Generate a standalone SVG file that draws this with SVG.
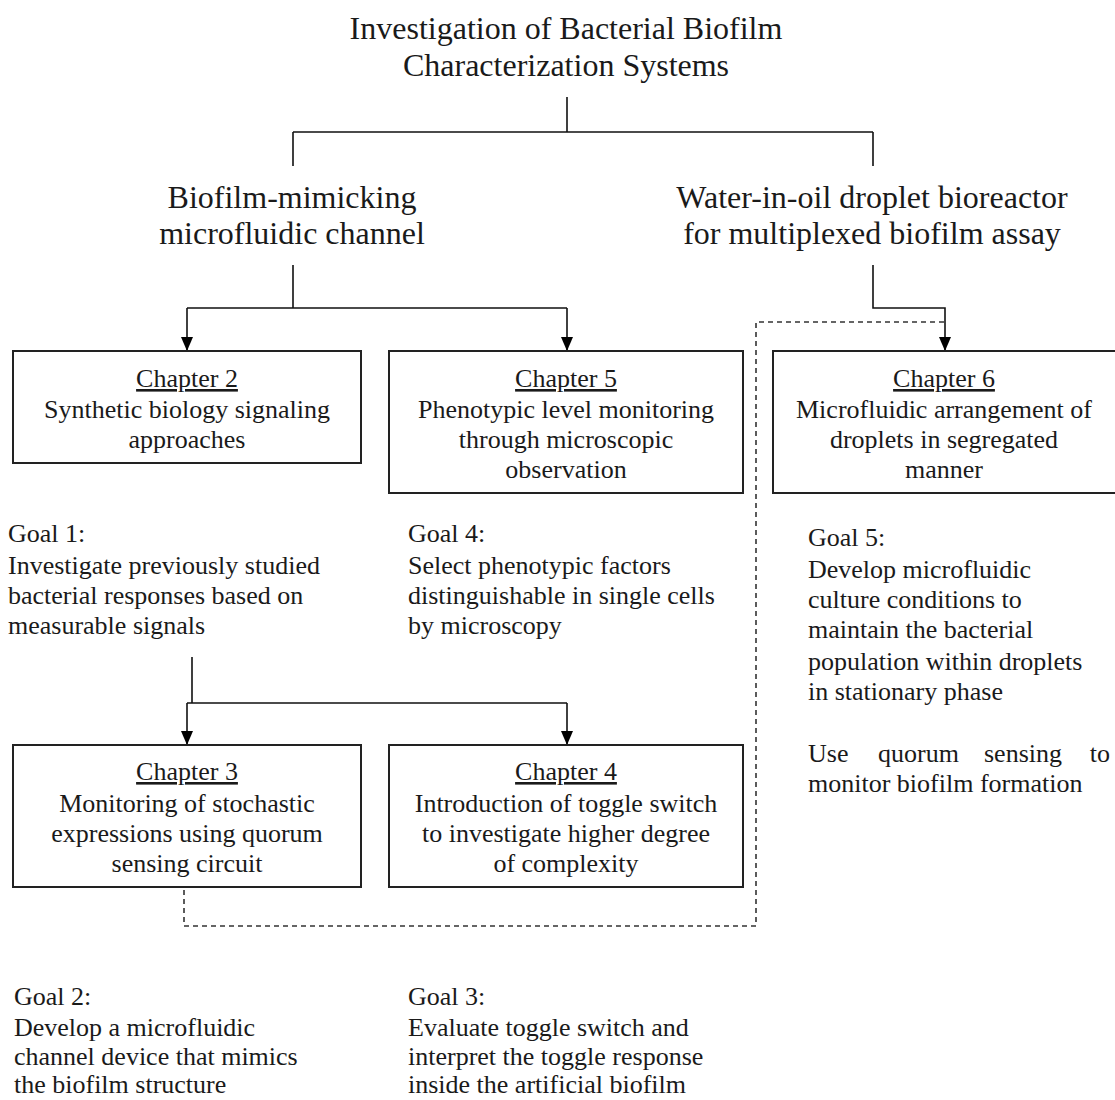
<svg xmlns="http://www.w3.org/2000/svg" width="1115" height="1100" viewBox="0 0 1115 1100">
<defs>
<marker id="arr" markerWidth="14" markerHeight="12" refX="14" refY="6" orient="auto" markerUnits="userSpaceOnUse" viewBox="0 0 14 12">
<path d="M0,0 L14,6 L0,12 Z" fill="#000"/>
</marker>
<style>
text{font-family:"Liberation Serif","Times New Roman",serif;fill:#1a1a1a}
.t{font-size:32px;text-anchor:middle}
.b{font-size:26px;text-anchor:middle}
.g{font-size:26px}
.u{text-decoration:underline}
.box{fill:#fff;stroke:#222;stroke-width:2}
.ln{fill:none;stroke:#111;stroke-width:1.6}
.ds{fill:none;stroke:#333;stroke-width:1.6;stroke-dasharray:5,4}
</style>
</defs>
<rect width="1115" height="1100" fill="#fff"/>
<g id="title">
<text class="t" x="566" y="39">Investigation of Bacterial Biofilm</text>
<text class="t" x="566" y="76">Characterization Systems</text>
</g>
<g id="branch-left">
<text class="t" x="292" y="208">Biofilm-mimicking</text>
<text class="t" x="292" y="244">microfluidic channel</text>
</g>
<g id="branch-right">
<text class="t" x="872" y="208">Water-in-oil droplet bioreactor</text>
<text class="t" x="872" y="244">for multiplexed biofilm assay</text>
</g>
<g id="connectors">
<path class="ln" d="M567,97 V132 M293,132 H873 M293,132 V166 M873,132 V166"/>
<path class="ln" d="M293,265 V308 M187,308 H567"/>
<path class="ln" d="M187,308 V351" marker-end="url(#arr)"/>
<path class="ln" d="M567,308 V351" marker-end="url(#arr)"/>
<path class="ln" d="M873,265 V308 H945 V351" marker-end="url(#arr)"/>
<path class="ln" d="M192,657 V703 M187,703 H567"/>
<path class="ln" d="M187,703 V745" marker-end="url(#arr)"/>
<path class="ln" d="M567,703 V745" marker-end="url(#arr)"/>
<path class="ds" d="M184,890 V926 H756 V322 H945"/>
</g>
<g id="ch2">
<rect class="box" x="13" y="351" width="348" height="112"/>
<text class="b u" x="187" y="387">Chapter 2</text>
<text class="b" x="187" y="418">Synthetic biology signaling</text>
<text class="b" x="187" y="448">approaches</text>
</g>
<g id="ch5">
<rect class="box" x="389" y="351" width="354" height="142"/>
<text class="b u" x="566" y="387">Chapter 5</text>
<text class="b" x="566" y="418">Phenotypic level monitoring</text>
<text class="b" x="566" y="448">through microscopic</text>
<text class="b" x="566" y="478">observation</text>
</g>
<g id="ch6">
<rect class="box" x="773" y="351" width="345" height="142"/>
<text class="b u" x="944" y="387">Chapter 6</text>
<text class="b" x="944" y="418">Microfluidic arrangement of</text>
<text class="b" x="944" y="448">droplets in segregated</text>
<text class="b" x="944" y="478">manner</text>
</g>
<g id="ch3">
<rect class="box" x="13" y="745" width="348" height="142"/>
<text class="b u" x="187" y="780">Chapter 3</text>
<text class="b" x="187" y="812">Monitoring of stochastic</text>
<text class="b" x="187" y="842">expressions using quorum</text>
<text class="b" x="187" y="872">sensing circuit</text>
</g>
<g id="ch4">
<rect class="box" x="389" y="745" width="354" height="142"/>
<text class="b u" x="566" y="780">Chapter 4</text>
<text class="b" x="566" y="812">Introduction of toggle switch</text>
<text class="b" x="566" y="842">to investigate higher degree</text>
<text class="b" x="566" y="872">of complexity</text>
</g>
<g id="goal1">
<text class="g" x="8" y="542">Goal 1:</text>
<text class="g" x="8" y="574">Investigate previously studied</text>
<text class="g" x="8" y="604">bacterial responses based on</text>
<text class="g" x="8" y="634">measurable signals</text>
</g>
<g id="goal4">
<text class="g" x="408" y="542">Goal 4:</text>
<text class="g" x="408" y="574">Select phenotypic factors</text>
<text class="g" x="408" y="604">distinguishable in single cells</text>
<text class="g" x="408" y="634">by microscopy</text>
</g>
<g id="goal5">
<text class="g" x="808" y="546">Goal 5:</text>
<text class="g" x="808" y="578">Develop microfluidic</text>
<text class="g" x="808" y="608">culture conditions to</text>
<text class="g" x="808" y="638">maintain the bacterial</text>
<text class="g" x="808" y="670">population within droplets</text>
<text class="g" x="808" y="700">in stationary phase</text>
<text class="g" y="762"><tspan x="808">Use</tspan><tspan x="878">quorum</tspan><tspan x="984">sensing</tspan></text>
<text class="g" x="1110" y="762" text-anchor="end">to</text>
<text class="g" x="808" y="792">monitor biofilm formation</text>
</g>
<g id="goal2">
<text class="g" x="14" y="1005">Goal 2:</text>
<text class="g" x="14" y="1036">Develop a microfluidic</text>
<text class="g" x="14" y="1065">channel device that mimics</text>
<text class="g" x="14" y="1093">the biofilm structure</text>
</g>
<g id="goal3">
<text class="g" x="408" y="1005">Goal 3:</text>
<text class="g" x="408" y="1036">Evaluate toggle switch and</text>
<text class="g" x="408" y="1065">interpret the toggle response</text>
<text class="g" x="408" y="1093">inside the artificial biofilm</text>
</g>
</svg>
